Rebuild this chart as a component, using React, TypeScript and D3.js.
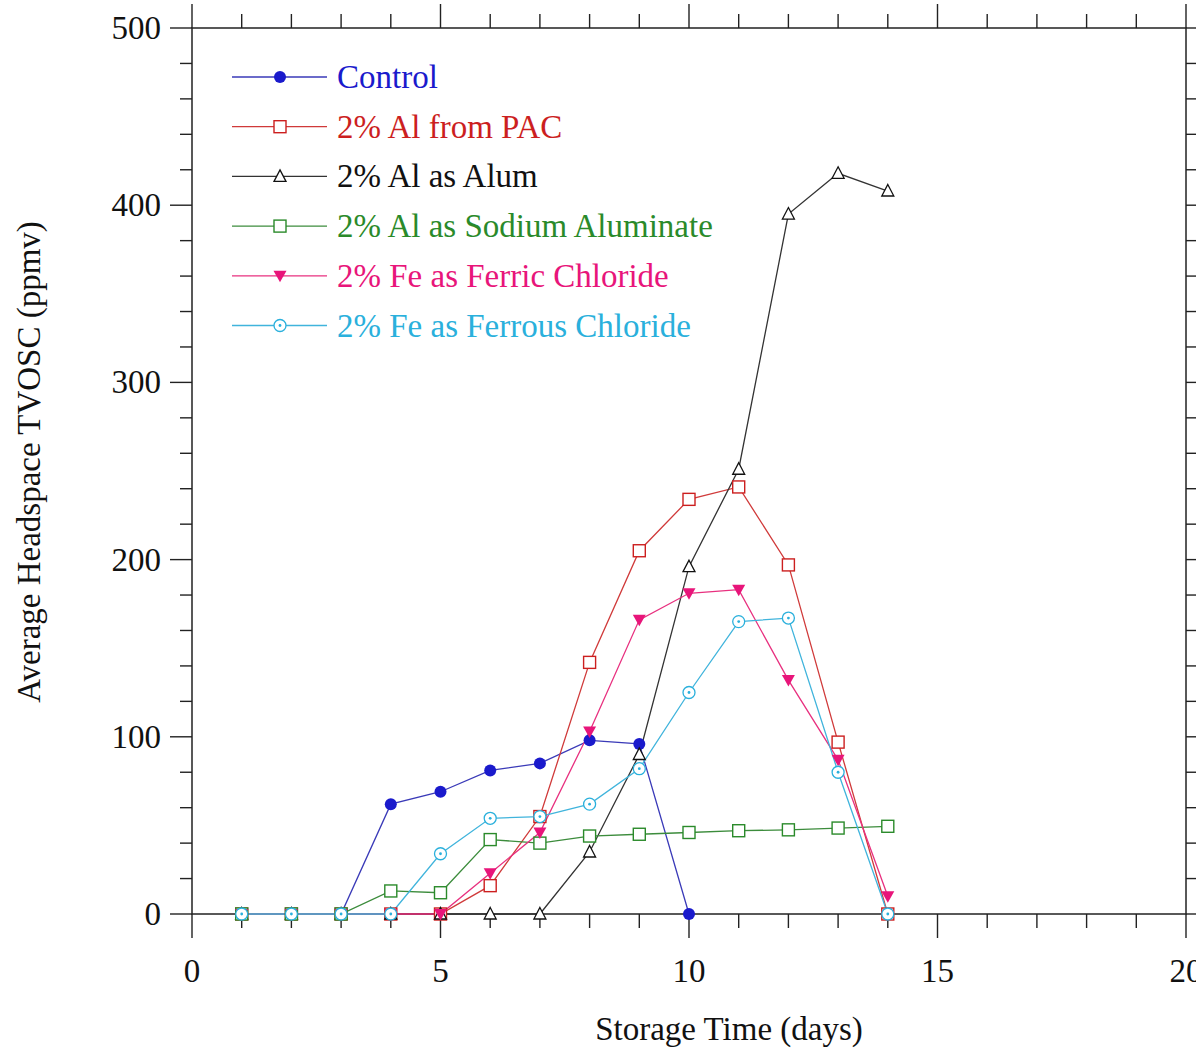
import * as d3 from "d3";

const DAYS = [1, 2, 3, 4, 5, 6, 7, 8, 9, 10, 11, 12, 13, 14];
const CONTROL = [0, 0, 0, 62, 69, 81, 85, 98, 96, 0];
const PAC = [0, 0, 0, 0, 0, 16, 55, 142, 205, 234, 241, 197, 97, 0];
const ALUM = [0, 0, 0, 0, 0, 0, 0, 35, 90, 196, 251, 395, 418, 408];
const SODIUM = [0, 0, 0, 13, 12, 42, 40, 44, 45, 46, 47, 47.5, 48.5, 49.5];
const FERRIC = [0, 0, 0, 0, 0, 23, 46, 103, 166, 181, 183, 132, 87, 10];
const FERROUS = [0, 0, 0, 0, 34, 54, 55, 62, 82, 125, 165, 167, 80, 0];

const SERIES = [
  { name: "Control", values: CONTROL, color: "#1a1acc", line: "#3a3ab8", marker: "dot" },
  { name: "2% Al from PAC", values: PAC, color: "#cc1f1f", line: "#d03a3a", marker: "square" },
  { name: "2% Al as Alum", values: ALUM, color: "#111111", line: "#333333", marker: "triangle" },
  { name: "2% Al as Sodium Aluminate", values: SODIUM, color: "#2a8a2a", line: "#3c8c3c", marker: "square" },
  { name: "2% Fe as Ferric Chloride", values: FERRIC, color: "#e8157a", line: "#e8307f", marker: "down" },
  { name: "2% Fe as Ferrous Chloride", values: FERROUS, color: "#2ab0dc", line: "#40b4dc", marker: "ring" },
];

const X_TICKS = [0, 5, 10, 15, 20];
const Y_TICKS = [0, 100, 200, 300, 400, 500];

const W = 1196;
const H = 1048;
const left = 192;
const right = 1186;
const top = 28;
const bottom = 914;

const x = d3.scaleLinear().domain([0, 20]).range([left, right]);
const y = d3.scaleLinear().domain([0, 500]).range([bottom, top]);

const FONT = "'Liberation Serif', 'DejaVu Serif', serif";
const AXIS = "#222";
const FS = 33;

function Marker({ kind, cx, cy, color }: { kind: string; cx: number; cy: number; color: string }) {
  const s = 6;
  if (kind === "dot") return <circle cx={cx} cy={cy} r={6} fill={color} />;
  if (kind === "square")
    return <rect x={cx - s} y={cy - s} width={2 * s} height={2 * s} fill="white" stroke={color} strokeWidth={1.4} />;
  if (kind === "triangle")
    return (
      <path d={`M${cx},${cy - 6.5} L${cx + 6},${cy + 5} L${cx - 6},${cy + 5} Z`} fill="white" stroke={color} strokeWidth={1.3} />
    );
  if (kind === "down")
    return <path d={`M${cx - 6.5},${cy - 5} L${cx + 6.5},${cy - 5} L${cx},${cy + 6.5} Z`} fill={color} />;
  return (
    <g>
      <circle cx={cx} cy={cy} r={6} fill="white" stroke={color} strokeWidth={1.3} />
      <circle cx={cx} cy={cy} r={1.4} fill={color} />
    </g>
  );
}

export default function App() {
  const line = d3
    .line<number>()
    .x((_, i) => x(DAYS[i]))
    .y((d) => y(d));

  const minorX = d3.range(0, 21, 1);
  const minorY = d3.range(0, 501, 20);

  return (
    <svg width={W} height={H} style={{ position: "absolute", left: 0, top: 0, background: "white" }} fontFamily={FONT}>
      {/* frame */}
      <rect x={left} y={top} width={right - left} height={bottom - top} fill="none" stroke={AXIS} strokeWidth={1.5} />

      {/* x ticks bottom & top */}
      {minorX.map((t) => {
        const major = t % 5 === 0;
        const len = major ? 24 : 14;
        return (
          <g key={`x${t}`} stroke={AXIS} strokeWidth={1.4}>
            <line x1={x(t)} x2={x(t)} y1={bottom} y2={bottom + len} />
            <line x1={x(t)} x2={x(t)} y1={top} y2={top - len} />
          </g>
        );
      })}
      {/* y ticks left & right */}
      {minorY.map((t) => {
        const major = t % 100 === 0;
        const len = major ? 22 : 12;
        return (
          <g key={`y${t}`} stroke={AXIS} strokeWidth={1.4}>
            <line x1={left} x2={left - len} y1={y(t)} y2={y(t)} />
            <line x1={right} x2={right + len} y1={y(t)} y2={y(t)} />
          </g>
        );
      })}

      {X_TICKS.map((t) => (
        <text key={`xl${t}`} x={x(t)} y={982} textAnchor="middle" fontSize={FS} fill="#111">
          {t}
        </text>
      ))}
      {Y_TICKS.map((t) => (
        <text key={`yl${t}`} x={161} y={y(t) + 11} textAnchor="end" fontSize={FS} fill="#111">
          {t}
        </text>
      ))}

      <text x={729} y={1040} textAnchor="middle" fontSize={FS} fill="#111">
        Storage Time (days)
      </text>
      <text transform="translate(40,462) rotate(-90)" textAnchor="middle" fontSize={FS} fill="#111">
        Average Headspace TVOSC (ppmv)
      </text>

      {/* series */}
      {SERIES.map((s) => (
        <path key={`l${s.name}`} d={line(s.values) ?? ""} fill="none" stroke={s.line} strokeWidth={1.3} />
      ))}
      {SERIES.map((s) =>
        s.values.map((v, i) => (
          <Marker key={`m${s.name}${i}`} kind={s.marker} cx={x(DAYS[i])} cy={y(v)} color={s.color} />
        ))
      )}

      {/* legend */}
      {SERIES.map((s, i) => {
        const ly = 77 + i * 49.7;
        return (
          <g key={`lg${s.name}`}>
            <line x1={232} x2={327} y1={ly} y2={ly} stroke={s.line} strokeWidth={1.3} />
            <Marker kind={s.marker} cx={280} cy={ly} color={s.color} />
            <text x={337} y={ly + 11} fontSize={FS} fill={s.color}>
              {s.name}
            </text>
          </g>
        );
      })}
    </svg>
  );
}
